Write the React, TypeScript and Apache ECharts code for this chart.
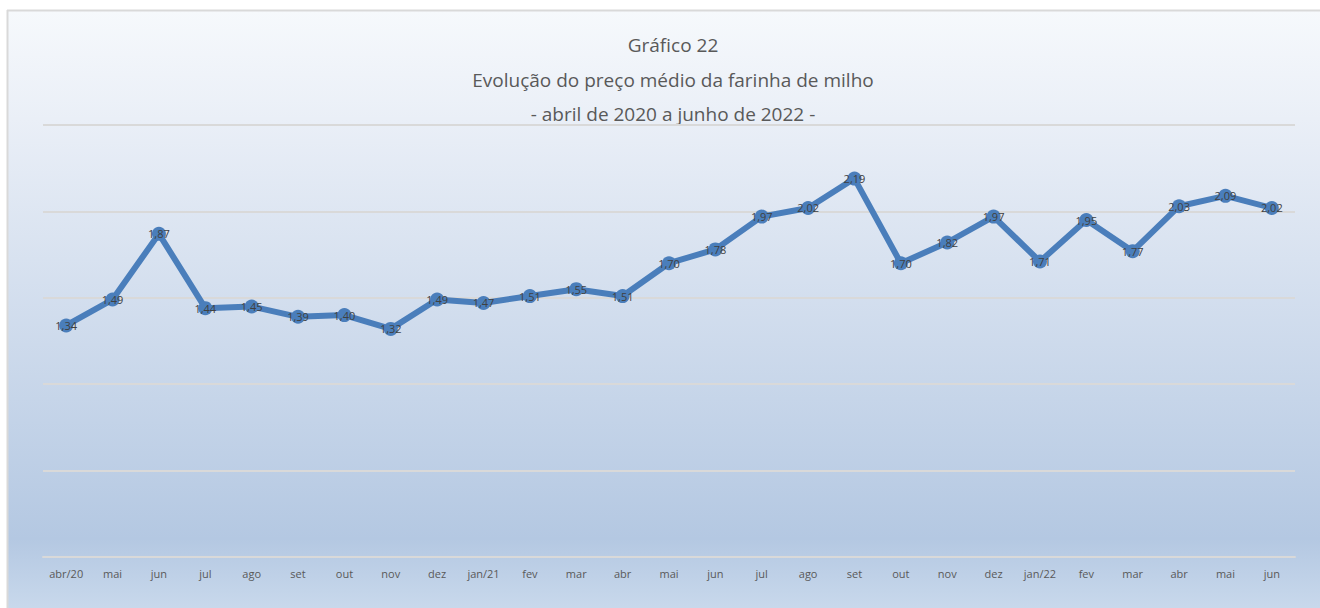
import React, { useEffect, useRef } from "react";
import * as echarts from "echarts";

const categories = [
  "abr/20", "mai", "jun", "jul", "ago", "set", "out", "nov", "dez",
  "jan/21", "fev", "mar", "abr", "mai", "jun", "jul", "ago", "set", "out", "nov", "dez",
  "jan/22", "fev", "mar", "abr", "mai", "jun",
];
const prices = [
  1.34, 1.49, 1.87, 1.44, 1.45, 1.39, 1.4, 1.32, 1.49,
  1.47, 1.51, 1.55, 1.51, 1.7, 1.78, 1.97, 2.02, 2.19, 1.7, 1.82, 1.97,
  1.71, 1.95, 1.77, 2.03, 2.09, 2.02,
];
const titleLines = [
  "Gráfico 22",
  "Evolução do preço médio da farinha de milho",
  "- abril de 2020 a junho de 2022 -",
];

const FONT = "'Open Sans', 'Noto Sans', sans-serif";

export default function App() {
  const ref = useRef<HTMLDivElement>(null);
  useEffect(() => {
    if (!ref.current) return;
    const chart = echarts.init(ref.current, null, { renderer: "svg" });
    chart.setOption({
      animation: false,
      backgroundColor: "#ffffff",
      graphic: [
        {
          type: "rect",
          z: -10,
          silent: true,
          shape: { x: 8, y: 11, width: 1320, height: 600 },
          style: {
            fill: new echarts.graphic.LinearGradient(0, 0, 0, 1, [
              { offset: 0, color: "#f6f9fc" },
              { offset: 0.18, color: "#eaeff7" },
              { offset: 0.88, color: "#b4c8e2" },
              { offset: 1, color: "#c9d9ec" },
            ]),
          },
        },
        {
          type: "line",
          z: -9,
          silent: true,
          shape: { x1: 7, y1: 10.5, x2: 1320, y2: 10.5 },
          style: { stroke: "#d9d9d9", lineWidth: 2 },
        },
        {
          type: "line",
          z: -9,
          silent: true,
          shape: { x1: 7.5, y1: 10, x2: 7.5, y2: 608 },
          style: { stroke: "#d9d9d9", lineWidth: 2 },
        },
        ...titleLines.map((t, i) => ({
          type: "text",
          x: 673,
          y: 45 + i * 34.5,
          silent: true,
          style: {
            text: t,
            fontSize: 19,
            fontFamily: FONT,
            fill: "#595959",
            textAlign: "center",
            textVerticalAlign: "middle",
          },
        })),
      ],
      grid: { left: 43, right: 25, top: 125, bottom: 51, containLabel: false },
      xAxis: {
        type: "category",
        data: categories,
        boundaryGap: true,
        axisLine: { lineStyle: { color: "#d9d9d9", width: 2 } },
        axisTick: { show: false },
        axisLabel: {
          interval: 0,
          color: "#595959",
          fontSize: 11,
          fontFamily: FONT,
          margin: 11,
        },
      },
      yAxis: {
        type: "value",
        min: 0,
        max: 2.5,
        interval: 0.5,
        axisLabel: { show: false },
        axisLine: { show: false },
        axisTick: { show: false },
        splitLine: { lineStyle: { color: "#d9d9d9", width: 2 } },
      },
      series: [
        {
          type: "line",
          data: prices,
          symbol: "circle",
          symbolSize: 14,
          itemStyle: { color: "#4a7ebb" },
          lineStyle: { color: "#4a7ebb", width: 6 },
          label: {
            show: true,
            position: "inside",
            color: "#404040",
            fontSize: 11,
            fontFamily: FONT,
            formatter: (p: any) => p.value.toFixed(2).replace(".", ","),
          },
        },
      ],
    });
    return () => chart.dispose();
  }, []);
  return (
    <div style={{ position: "fixed", left: 0, top: 0, width: 1320, height: 608 }}>
      <div ref={ref} style={{ width: 1320, height: 608 }} />
    </div>
  );
}
